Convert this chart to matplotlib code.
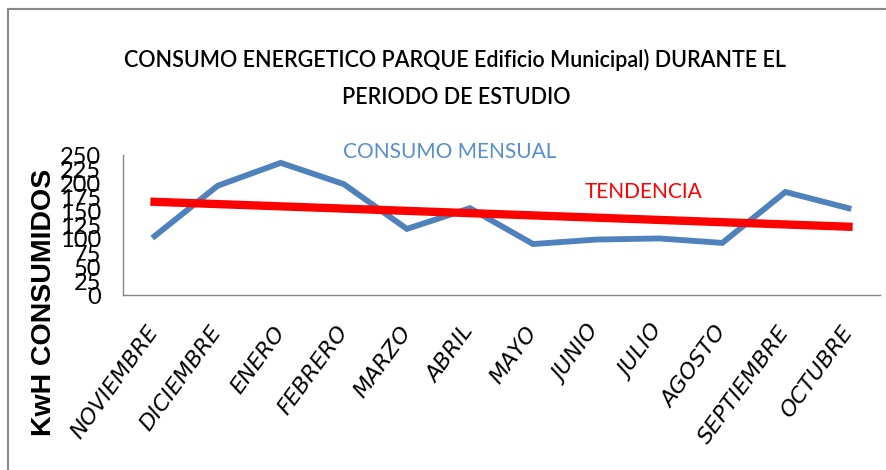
import numpy as np
import matplotlib
matplotlib.use("Agg")
import matplotlib.pyplot as plt
from matplotlib.patches import Rectangle

months = ["NOVIEMBRE", "DICIEMBRE", "ENERO", "FEBRERO", "MARZO", "ABRIL",
          "MAYO", "JUNIO", "JULIO", "AGOSTO", "SEPTIEMBRE", "OCTUBRE"]
consumo = [105, 195, 236, 198, 118, 155, 91, 99, 101, 93, 184, 155]
yticks = [0, 25, 50, 75, 100, 125, 150, 175, 200, 225, 250]

narrow = ["Lato", "DejaVu Sans"]

fig = plt.figure(figsize=(8.87, 4.70), dpi=100)
fig.patch.set_facecolor("white")
fig.patches.append(Rectangle((8/887, -0.1), 1.2, 1 - 9/470 + 0.1,
                             transform=fig.transFigure, fill=False,
                             edgecolor="#888888", linewidth=1.5))

ax = fig.add_axes([123/887, 1 - 295/470, (880 - 123)/887, 140/470])
x = np.arange(len(months))
ax.plot(x, consumo, color="#4F81BD", linewidth=4.2, solid_joinstyle="miter")
coef = np.polyfit(x, consumo, 1)
trend = np.polyval(coef, x)
ax.plot([x[0], x[-1]], [trend[0], trend[-1]], color="#FF0000", linewidth=6)

ax.set_xlim(-0.5, len(months) - 0.5)
ax.set_ylim(0, 250)
ax.set_yticks(yticks)
ax.set_yticklabels([str(v) for v in yticks], family=narrow, fontsize=17)
ax.set_xticks(x)
ax.set_xticklabels(months, rotation=54, ha="right", va="center",
                   rotation_mode="anchor", family=["DejaVu Sans"],
                   style="oblique", fontsize=16)
ax.tick_params(axis="y", length=0, pad=16)
ax.tick_params(axis="x", length=0, pad=24)
for s in ["top", "right"]:
    ax.spines[s].set_visible(False)
for s in ["left", "bottom"]:
    ax.spines[s].set_color("#868686")
    ax.spines[s].set_linewidth(1.0)

fig.text(455/887, 1 - 60/470, "CONSUMO ENERGETICO PARQUE Edificio Municipal) DURANTE EL",
         ha="center", va="center", fontsize=15.5, family=narrow, fontweight="semibold")
fig.text(456/887, 1 - 98/470, "PERIODO DE ESTUDIO",
         ha="center", va="center", fontsize=15.5, family=narrow, fontweight="semibold")
fig.text(44/887, 1 - 302/470, "KwH CONSUMIDOS", rotation=90, ha="center",
         va="center", fontsize=20.5, fontweight="bold",
         family=["Liberation Sans", "DejaVu Sans"])
fig.text(450/887, 1 - 152/470, "CONSUMO MENSUAL", ha="center", va="center",
         fontsize=15, color="#558ED5", family=narrow)
fig.text(644/887, 1 - 192/470, "TENDENCIA", ha="center", va="center",
         fontsize=15, color="#FF0000", family=narrow)

fig.savefig("out.png", dpi=100)
